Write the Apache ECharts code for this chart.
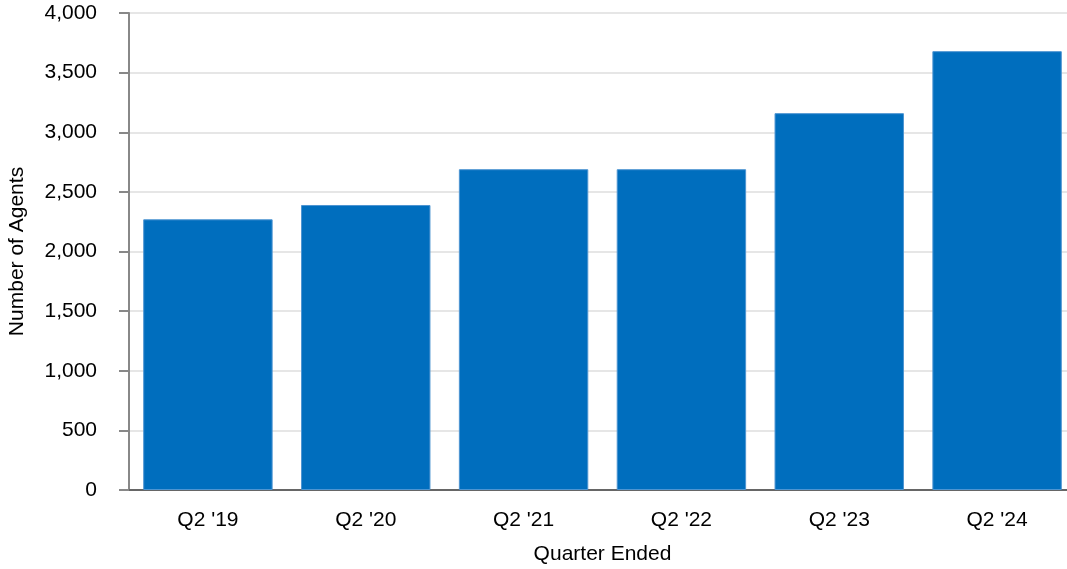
<!DOCTYPE html>
<html><head><meta charset="utf-8">
<script src="https://cdn.jsdelivr.net/npm/echarts@6/dist/echarts.min.js"></script>
<style>html,body{margin:0;padding:0;background:#fff}#c{width:1067px;height:569px}</style>
</head><body><div id="c"></div>
<script>
const categories = ["Q2 '19", "Q2 '20", "Q2 '21", "Q2 '22", "Q2 '23", "Q2 '24"];
const agents = [2270, 2390, 2690, 2690, 3160, 3680];
const yTicks = { min: 0, max: 4000, interval: 500 };

const chart = echarts.init(document.getElementById('c'));
const font = 'Liberation Sans, Arial, sans-serif';
const fs = 21;
chart.setOption({
  animation: false,
  grid: { left: 129, top: 13, width: 947, height: 477, containLabel: false, outerBoundsMode: 'none' },
  xAxis: {
    type: 'category', data: categories,
    name: 'Quarter Ended', nameLocation: 'middle', nameGap: 54,
    nameTextStyle: { fontFamily: font, fontSize: fs, color: '#000' },
    axisLine: { lineStyle: { color: '#666', width: 2 } },
    axisTick: { alignWithLabel: true, length: 10, lineStyle: { color: '#999', width: 2 } },
    axisLabel: { fontFamily: font, fontSize: fs, color: '#000', margin: 20 }
  },
  yAxis: {
    type: 'value', min: yTicks.min, max: yTicks.max, interval: yTicks.interval,
    name: 'Number of Agents', nameLocation: 'middle', nameGap: 101,
    nameTextStyle: { fontFamily: font, fontSize: fs, color: '#000' },
    axisLine: { show: true, lineStyle: { color: '#888', width: 2 } },
    axisTick: { show: true, length: 10, lineStyle: { color: '#888', width: 2 } },
    axisLabel: { fontFamily: font, fontSize: fs, color: '#000', margin: 32,
      formatter: v => v.toLocaleString('en-US') },
    splitLine: { lineStyle: { color: '#e6e6e6', width: 2 } }
  },
  series: [{
    type: 'bar', data: agents, barCategoryGap: '18%',
    itemStyle: { color: '#006EBE', borderColor: '#4d95d2', borderWidth: 1 }
  }]
});
</script></body></html>
